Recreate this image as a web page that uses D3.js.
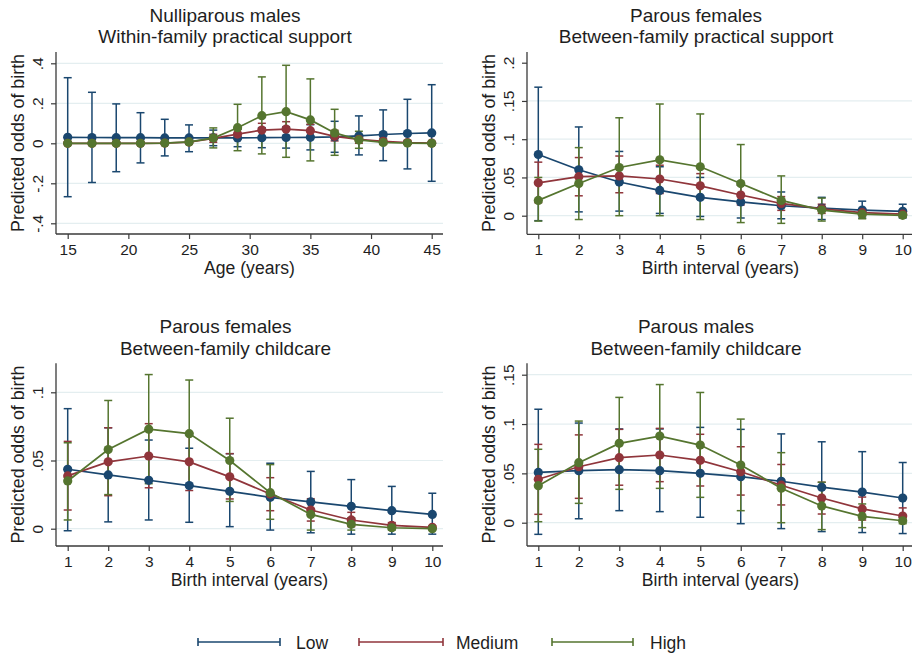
<!DOCTYPE html>
<html>
<head>
<meta charset="utf-8">
<script src="https://cdn.jsdelivr.net/npm/d3@7"></script>
<style>
  html, body { margin: 0; padding: 0; background: #fff; }
  svg { display: block; font-family: "Liberation Sans", Arial, sans-serif; }
</style>
</head>
<body>
<svg id="chart" width="912" height="654"></svg>
<script>
// ---------------- DATA ----------------
const seriesNames = ["Low", "Medium", "High"];

// Panel 1: Nulliparous males, within-family practical support
const p1Title = ["Nulliparous males", "Within-family practical support"];
const p1XLabel = "Age (years)";
const p1X = [15,17,19,21,23,25,27,29,31,33,35,37,39,41,43,45];
const p1XTicks = [15,20,25,30,35,40,45];
const p1YTicks = [-0.4,-0.2,0,0.2,0.4];
const p1YTickLabels = ["-.4","-.2","0",".2",".4"];
const p1LowMean  = [0.030,0.029,0.028,0.028,0.027,0.027,0.027,0.027,0.028,0.029,0.030,0.032,0.037,0.044,0.049,0.052];
const p1LowLo    = [-0.267,-0.196,-0.142,-0.098,-0.063,-0.042,-0.012,-0.017,-0.022,-0.024,-0.033,-0.045,-0.058,-0.087,-0.128,-0.190];
const p1LowHi    = [0.328,0.255,0.197,0.153,0.120,0.092,0.066,0.070,0.078,0.082,0.093,0.110,0.137,0.167,0.220,0.293];
const p1MedMean  = [0,0,0,0,0.001,0.006,0.025,0.046,0.066,0.071,0.063,0.035,0.020,0.010,0.004,0.001];
const p1MedLo    = [0,0,0,0,-0.002,-0.003,0.005,0.020,0.035,0.038,0.032,0.012,0.000,-0.005,-0.005,-0.004];
const p1MedHi    = [0,0,0,0,0.004,0.015,0.045,0.072,0.100,0.108,0.095,0.065,0.040,0.025,0.013,0.006];
const p1HighMean = [0,0,0,0,0.001,0.007,0.026,0.078,0.138,0.158,0.117,0.052,0.017,0.004,0.001,0];
const p1HighLo   = [0,0,0,0,-0.001,-0.005,-0.023,-0.037,-0.053,-0.070,-0.088,-0.060,-0.025,-0.004,-0.001,0];
const p1HighHi   = [0,0,0,0,0.003,0.020,0.077,0.195,0.332,0.390,0.322,0.170,0.060,0.012,0.003,0];

// Panel 2: Parous females, between-family practical support
const p2Title = ["Parous females", "Between-family practical support"];
const p2XLabel = "Birth interval (years)";
const p2X = [1,2,3,4,5,6,7,8,9,10];
const p2XTicks = [1,2,3,4,5,6,7,8,9,10];
const p2YTicks = [0,0.05,0.1,0.15,0.2];
const p2YTickLabels = ["0",".05",".1",".15",".2"];
const p2LowMean  = [0.080,0.060,0.044,0.033,0.024,0.018,0.013,0.010,0.0074,0.0057];
const p2LowLo    = [-0.0065,0.005,0.006,0.003,-0.001,-0.003,-0.004,-0.005,-0.003,-0.003];
const p2LowHi    = [0.168,0.116,0.084,0.064,0.050,0.040,0.031,0.024,0.019,0.015];
const p2MedMean  = [0.043,0.051,0.052,0.048,0.039,0.027,0.016,0.009,0.004,0.002];
const p2MedLo    = [0.017,0.026,0.030,0.029,0.022,0.014,0.007,0.003,0.000,-0.001];
const p2MedHi    = [0.070,0.076,0.078,0.066,0.055,0.040,0.025,0.015,0.008,0.005];
const p2HighMean = [0.020,0.042,0.063,0.073,0.064,0.042,0.020,0.0074,0.002,0.0005];
const p2HighLo   = [-0.007,-0.005,0.000,0.000,-0.005,-0.009,-0.010,-0.007,-0.004,-0.002];
const p2HighHi   = [0.050,0.089,0.128,0.146,0.133,0.093,0.052,0.023,0.008,0.003];

// Panel 3: Parous females, between-family childcare
const p3Title = ["Parous females", "Between-family childcare"];
const p3XLabel = "Birth interval (years)";
const p3X = [1,2,3,4,5,6,7,8,9,10];
const p3XTicks = [1,2,3,4,5,6,7,8,9,10];
const p3YTicks = [0,0.05,0.1];
const p3YTickLabels = ["0",".05",".1"];
const p3LowMean  = [0.0436,0.0394,0.0355,0.0316,0.0274,0.0230,0.0196,0.0164,0.0132,0.0105];
const p3LowLo    = [-0.0015,0.005,0.0064,0.0047,0.0015,-0.001,-0.003,-0.004,-0.004,-0.004];
const p3LowHi    = [0.088,0.074,0.065,0.059,0.055,0.048,0.042,0.036,0.031,0.026];
const p3MedMean  = [0.0387,0.049,0.0533,0.049,0.038,0.0254,0.0137,0.0064,0.0024,0.001];
const p3MedLo    = [0.0137,0.0242,0.030,0.028,0.0218,0.0132,0.0056,0.0015,0.000,-0.0005];
const p3MedHi    = [0.064,0.074,0.077,0.070,0.055,0.0374,0.022,0.012,0.0045,0.002];
const p3HighMean = [0.035,0.058,0.073,0.0697,0.050,0.0264,0.0105,0.0032,0.0007,0.0];
const p3HighLo   = [0.0064,0.025,0.033,0.031,0.020,0.0069,-0.001,-0.001,-0.001,-0.0005];
const p3HighHi   = [0.063,0.094,0.113,0.109,0.081,0.047,0.021,0.008,0.002,0.0005];

// Panel 4: Parous males, between-family childcare
const p4Title = ["Parous males", "Between-family childcare"];
const p4XLabel = "Birth interval (years)";
const p4X = [1,2,3,4,5,6,7,8,9,10];
const p4XTicks = [1,2,3,4,5,6,7,8,9,10];
const p4YTicks = [0,0.05,0.1,0.15];
const p4YTickLabels = ["0",".05",".1",".15"];
const p4LowMean  = [0.051,0.0527,0.0537,0.0527,0.050,0.0466,0.042,0.036,0.031,0.025];
const p4LowLo    = [-0.0118,0.004,0.0122,0.0112,0.0055,-0.001,-0.006,-0.009,-0.010,-0.011];
const p4LowHi    = [0.115,0.101,0.095,0.095,0.0966,0.0946,0.090,0.082,0.072,0.061];
const p4MedMean  = [0.044,0.0567,0.0659,0.0686,0.0632,0.0517,0.038,0.025,0.014,0.0068];
const p4MedLo    = [0.0085,0.0247,0.038,0.0416,0.0372,0.028,0.018,0.0088,0.0027,0.0017];
const p4MedHi    = [0.0794,0.089,0.0946,0.0956,0.0896,0.077,0.059,0.041,0.026,0.015];
const p4HighMean = [0.0375,0.0608,0.0804,0.0878,0.0787,0.0585,0.035,0.017,0.0064,0.002];
const p4HighLo   = [0.001,0.0196,0.0338,0.0348,0.0257,0.0122,0.000,-0.007,-0.005,-0.001];
const p4HighHi   = [0.0744,0.103,0.127,0.140,0.132,0.105,0.071,0.041,0.019,0.005];

// ---------------- STYLE / LAYOUT ----------------
const colors = ["#1a476f", "#90353b", "#55752f"];
const textColor = "#1e1e1e";
const axisColor = "#3a3a3a";
const gridColor = "#e4eef0";

// pixel geometry of each panel (plot box + where the scale's reference values land)
const layouts = [
  { box:[56,443,52,234],     xRef:[67.7,431.7],  yRefPx:[223.3,63.3], titleX:225, grid:[-0.4,-0.2,0,0.2,0.4] },
  { box:[527,914,52,234.3],  xRef:[538.3,902.7], yRefPx:[215.7,62.7], titleX:696, grid:[0,0.05,0.1,0.15] },
  { box:[56,443,363.3,546],  xRef:[67.7,432.3],  yRefPx:[528.7,392.3], titleX:225.5, grid:[0,0.05,0.1] },
  { box:[527,914,363.3,546], xRef:[538.3,902.7], yRefPx:[522.7,374.7], titleX:696, grid:[0,0.05,0.1,0.15] }
];

const panels = [
  { title:p1Title, xLabel:p1XLabel, x:p1X, xTicks:p1XTicks, yTicks:p1YTicks, yLabels:p1YTickLabels,
    series:[[p1LowMean,p1LowLo,p1LowHi],[p1MedMean,p1MedLo,p1MedHi],[p1HighMean,p1HighLo,p1HighHi]] },
  { title:p2Title, xLabel:p2XLabel, x:p2X, xTicks:p2XTicks, yTicks:p2YTicks, yLabels:p2YTickLabels,
    series:[[p2LowMean,p2LowLo,p2LowHi],[p2MedMean,p2MedLo,p2MedHi],[p2HighMean,p2HighLo,p2HighHi]] },
  { title:p3Title, xLabel:p3XLabel, x:p3X, xTicks:p3XTicks, yTicks:p3YTicks, yLabels:p3YTickLabels,
    series:[[p3LowMean,p3LowLo,p3LowHi],[p3MedMean,p3MedLo,p3MedHi],[p3HighMean,p3HighLo,p3HighHi]] },
  { title:p4Title, xLabel:p4XLabel, x:p4X, xTicks:p4XTicks, yTicks:p4YTicks, yLabels:p4YTickLabels,
    series:[[p4LowMean,p4LowLo,p4LowHi],[p4MedMean,p4MedLo,p4MedHi],[p4HighMean,p4HighLo,p4HighHi]] }
];

const svg = d3.select("#chart");
svg.append("rect").attr("width", 912).attr("height", 654).attr("fill", "#fff");

panels.forEach((p, i) => {
  const L = layouts[i];
  const [x0, x1, y0, y1] = L.box;
  const xs = p.x;
  const x = d3.scaleLinear().domain([xs[0], xs[xs.length-1]]).range(L.xRef);
  const yt = p.yTicks;
  const y = d3.scaleLinear().domain([yt[0], yt[yt.length-1]]).range(L.yRefPx);

  const g = svg.append("g");

  // gridlines
  g.selectAll("line.grid").data(L.grid).join("line")
    .attr("x1", x0).attr("x2", x1)
    .attr("y1", d => y(d)).attr("y2", d => y(d))
    .attr("stroke", gridColor).attr("stroke-width", 1.2);

  // y axis
  const yAxis = d3.axisLeft(y).tickValues(yt)
    .tickFormat((d, k) => p.yLabels[k]).tickSize(5).tickSizeOuter(0);
  const gy = g.append("g").attr("transform", `translate(${x0},0)`).call(yAxis);
  gy.select(".domain").remove();
  gy.selectAll(".tick line").attr("stroke", axisColor).attr("stroke-width", 1.2);
  gy.selectAll(".tick text")
    .attr("x", null).attr("dy", null).attr("y", null)
    .attr("transform", "translate(-13,0) rotate(-90)")
    .attr("text-anchor", "middle")
    .attr("fill", textColor)
    .style("font-size", "15.5px")
    .style("font-family", "Liberation Sans, Arial, sans-serif");

  // x axis
  const xAxis = d3.axisBottom(x).tickValues(p.xTicks).tickFormat(d3.format("d"))
    .tickSize(5).tickPadding(4.5).tickSizeOuter(0);
  const gx = g.append("g").attr("transform", `translate(0,${y1})`).call(xAxis);
  gx.select(".domain").remove();
  gx.selectAll(".tick line").attr("stroke", axisColor).attr("stroke-width", 1.2);
  gx.selectAll(".tick text").attr("fill", textColor)
    .style("font-size", "15.5px")
    .style("font-family", "Liberation Sans, Arial, sans-serif");

  // axis lines
  g.append("line").attr("x1", x0).attr("x2", x0).attr("y1", y0).attr("y2", y1)
    .attr("stroke", axisColor).attr("stroke-width", 1.3);
  g.append("line").attr("x1", x0).attr("x2", x1).attr("y1", y1).attr("y2", y1)
    .attr("stroke", axisColor).attr("stroke-width", 1.3);

  // two-line title
  p.title.forEach((t, k) => {
    g.append("text").attr("x", L.titleX).attr("y", y0 - 30 + k * 21.3)
      .attr("text-anchor", "middle").attr("fill", textColor)
      .style("font-size", "19px").text(t);
  });
  // axis titles
  g.append("text").attr("x", (x0 + x1) / 2).attr("y", y1 + 39.5)
    .attr("text-anchor", "middle").attr("fill", textColor)
    .style("font-size", "17.6px").text(p.xLabel);
  g.append("text")
    .attr("transform", `translate(${x0 - 32},${(y0 + y1) / 2}) rotate(-90)`)
    .attr("text-anchor", "middle").attr("fill", textColor)
    .style("font-size", "17.8px").text("Predicted odds of birth");

  // error bars (all series first)
  const capW = 4;
  p.series.forEach((s, si) => {
    const [mean, lo, hi] = s;
    const eg = g.append("g").attr("stroke", colors[si]).attr("stroke-width", 1.5).attr("fill", "none");
    xs.forEach((xv, k) => {
      const px = x(xv);
      eg.append("line").attr("x1", px).attr("x2", px).attr("y1", y(lo[k])).attr("y2", y(hi[k]));
      eg.append("line").attr("x1", px - capW).attr("x2", px + capW).attr("y1", y(lo[k])).attr("y2", y(lo[k]));
      eg.append("line").attr("x1", px - capW).attr("x2", px + capW).attr("y1", y(hi[k])).attr("y2", y(hi[k]));
    });
  });

  // lines + markers
  p.series.forEach((s, si) => {
    const mean = s[0];
    const pts = xs.map((xv, k) => [xv, mean[k]]);
    g.append("path").datum(pts)
      .attr("d", d3.line().x(d => x(d[0])).y(d => y(d[1])))
      .attr("fill", "none").attr("stroke", colors[si]).attr("stroke-width", 1.7);
    g.selectAll(null).data(pts).join("circle")
      .attr("cx", d => x(d[0])).attr("cy", d => y(d[1])).attr("r", 4.6)
      .attr("fill", colors[si]);
  });
});

// ---------------- LEGEND ----------------
const legendItems = [
  { x1:198, x2:280, tx:296 },
  { x1:359, x2:443, tx:456 },
  { x1:552, x2:633, tx:650 }
];
const ly = 642;
const lg = svg.append("g");
seriesNames.forEach((name, i) => {
  const it = legendItems[i];
  const gg = lg.append("g").attr("stroke", colors[i]).attr("stroke-width", 1.6);
  gg.append("line").attr("x1", it.x1).attr("x2", it.x2).attr("y1", ly).attr("y2", ly);
  gg.append("line").attr("x1", it.x1).attr("x2", it.x1).attr("y1", ly - 4).attr("y2", ly + 4);
  gg.append("line").attr("x1", it.x2).attr("x2", it.x2).attr("y1", ly - 4).attr("y2", ly + 4);
  lg.append("text").attr("x", it.tx).attr("y", ly + 6.5).attr("fill", textColor)
    .style("font-size", "17.5px").text(name);
});
</script>
</body>
</html>
